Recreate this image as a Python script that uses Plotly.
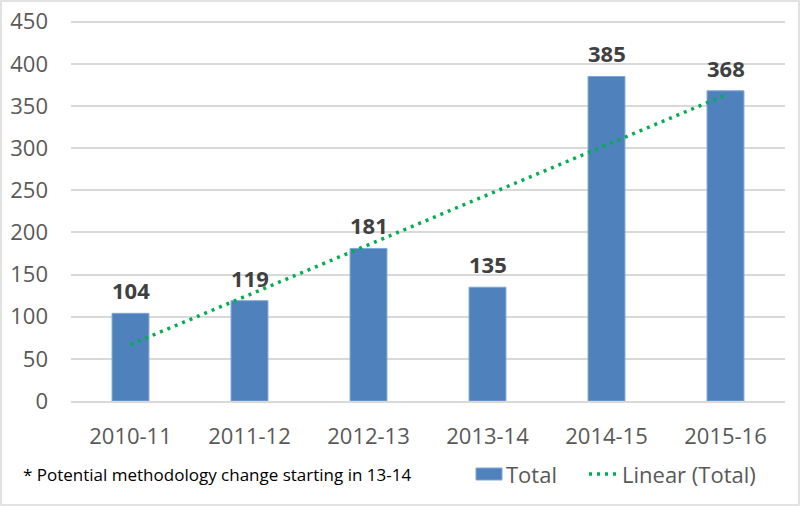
import plotly.graph_objects as go

categories = ["2010-11", "2011-12", "2012-13", "2013-14", "2014-15", "2015-16"]
totals = [104, 119, 181, 135, 385, 368]
trend_x = ["2010-11", "2015-16"]
trend_y = [67, 363]
y_ticks = [0, 50, 100, 150, 200, 250, 300, 350, 400, 450]
note = "* Potential methodology change starting in 13-14"
legend_names = ["Total", "Linear (Total)"]

FONT = "Open Sans"
TXT = "#595959"
BLUE = "#4F81BD"
GREEN = "#00B050"

W, H = 800, 506
L, R, T, B = 71, 15, 20, 105
pw, ph = W - L - R, H - T - B


def px(x):  # pixel x -> paper x
    return (x - L) / pw


def py(y):  # pixel y -> paper y
    return 1 - (y - T) / ph


fig = go.Figure()
fig.add_trace(go.Bar(
    x=categories, y=totals, name=legend_names[0],
    marker=dict(color=BLUE, line=dict(color="#7FA6D6", width=1)),
    width=0.31,
))
fig.add_trace(go.Scatter(
    x=trend_x, y=trend_y, name=legend_names[1], mode="lines",
    line=dict(color=GREEN, width=3.5, dash="3px,5px"),
))

annotations = [
    dict(text=str(v), x=c, y=v, xref="x", yref="y", xanchor="center", yanchor="bottom",
         yshift=6, showarrow=False,
         font=dict(family=FONT, size=22, color="#404040", weight="bold"))
    for c, v in zip(categories, totals)
]
annotations += [
    dict(text=note, xref="paper", yref="paper", x=px(21), y=py(474),
         xanchor="left", yanchor="middle", showarrow=False,
         font=dict(size=17, color="#000000")),
    dict(text=legend_names[0], xref="paper", yref="paper", x=px(504), y=py(474),
         xanchor="left", yanchor="middle", showarrow=False,
         font=dict(size=22, color=TXT)),
    dict(text=legend_names[1], xref="paper", yref="paper", x=px(620), y=py(474),
         xanchor="left", yanchor="middle", showarrow=False,
         font=dict(size=22, color=TXT)),
]
shapes = [
    dict(type="rect", xref="paper", yref="paper",
         x0=px(1), x1=px(799), y0=py(505), y1=py(1),
         line=dict(color="#D9D9D9", width=1.5)),
    dict(type="rect", xref="paper", yref="paper",
         x0=px(476), x1=px(502), y0=py(480), y1=py(468),
         fillcolor=BLUE, line=dict(color="#7FA6D6", width=1)),
    dict(type="line", xref="paper", yref="paper",
         x0=px(589), x1=px(618), y0=py(474), y1=py(474),
         line=dict(color=GREEN, width=3.5, dash="3px,5px")),
]

fig.update_layout(
    width=W, height=H,
    margin=dict(l=L, r=R, t=T, b=B, autoexpand=False),
    paper_bgcolor="white", plot_bgcolor="white",
    font=dict(family=FONT, color=TXT),
    showlegend=False,
    bargap=0.69,
    xaxis=dict(type="category", tickfont=dict(size=22, color=TXT), showgrid=False,
               showline=True, linecolor="#D9D9D9", linewidth=1.5, ticks="",
               ticklabelstandoff=15, automargin=False),
    yaxis=dict(range=[0, 452], tickvals=y_ticks, tickfont=dict(size=22, color=TXT),
               showgrid=True, gridcolor="#D9D9D9", gridwidth=1.5, zeroline=False,
               ticks="", ticklabelstandoff=22, automargin=False,
               ticklabeloverflow="allow"),
    annotations=annotations,
    shapes=shapes,
)

fig.write_html("out.html", config={"displayModeBar": False},
               post_script="document.body.style.margin='0';")
